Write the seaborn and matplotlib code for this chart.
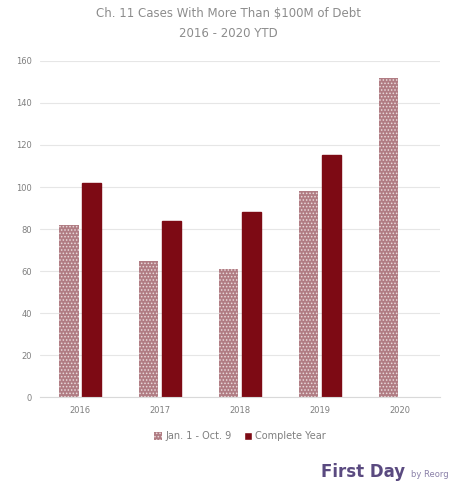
import numpy as np
import pandas as pd
import matplotlib.pyplot as plt
import seaborn as sns

# Datos
years = ['2016', '2017', '2018', '2019', '2020']
jan_oct = [82, 65, 61, 98, 152]
complete = [102, 84, 88, 115, np.nan]
series = ['Jan. 1 - Oct. 9', 'Complete Year']

df = pd.DataFrame({
    'year': years * 2,
    'cases': jan_oct + complete,
    'period': [series[0]] * 5 + [series[1]] * 5,
})

sns.set_style('white')
plt.rcParams['hatch.linewidth'] = 0.7

fig = plt.figure(figsize=(4.57, 4.91), dpi=100)
ax = fig.add_axes([0.088, 0.191, 0.875, 0.685])

sns.barplot(data=df, x='year', y='cases', hue='period',
            palette=['#b07c83', '#7d0a14'], width=0.56, gap=0.15,
            saturation=1, ax=ax, legend=True)

# patron punteado en la primera serie
for bar in ax.containers[0]:
    bar.set_hatch('.....')
    bar.set_edgecolor('#e9dadc')
    bar.set_linewidth(0)
for bar in ax.containers[1]:
    bar.set_edgecolor('#7d0a14')

ax.set_ylim(0, 160)
ax.set_yticks(range(0, 161, 20))
ax.yaxis.grid(True, color='#e6e6e6', linewidth=0.8)
ax.set_axisbelow(True)
for s in ['top', 'right', 'left']:
    ax.spines[s].set_visible(False)
ax.spines['bottom'].set_color('#d9d9d9')
ax.tick_params(axis='both', labelsize=6, colors='#7f7f7f', length=0, pad=6)
ax.set_xlabel(''); ax.set_ylabel('')

leg = ax.legend(loc='upper center', bbox_to_anchor=(0.5, -0.075), ncol=2,
                frameon=False, fontsize=7, labelcolor='#7f7f7f',
                handlelength=0.8, handleheight=0.8, columnspacing=1.2, handletextpad=0.4)
leg.legend_handles[0].set_hatch('.....')
leg.legend_handles[0].set_edgecolor('#e9dadc')
leg.legend_handles[0].set_linewidth(0)

fig.suptitle('Ch. 11 Cases With More Than $100M of Debt\n2016 - 2020 YTD',
             y=0.985, fontsize=8.5, color='#8c8c8c', linespacing=1.7)

fig.text(0.703, 0.028, 'First Day', fontsize=12, fontweight='bold', color='#5a4a80')
fig.text(0.9, 0.028, 'by Reorg', fontsize=6, color='#8a80a8')

fig.savefig('out.png', dpi=100, facecolor='white')
